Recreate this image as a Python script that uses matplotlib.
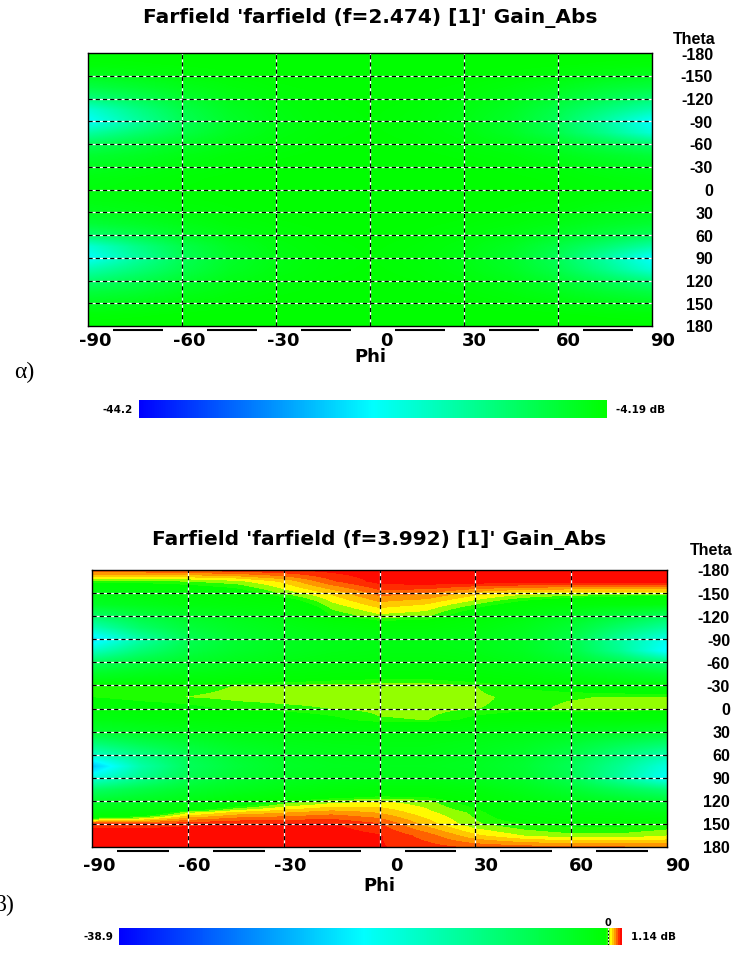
import numpy as np
import matplotlib
matplotlib.use("Agg")
import matplotlib.pyplot as plt
from matplotlib.colors import LinearSegmentedColormap, Normalize
from matplotlib.cm import ScalarMappable
from matplotlib.transforms import blended_transform_factory, ScaledTranslation

plt.rcParams["lines.scale_dashes"] = False

# sampling grid of the farfield tables (degrees)
PHI = [-90, -75, -60, -45, -30, -15, 0, 15, 30, 45, 60, 75, 90]
THETA = [-180, -165, -150, -135, -120, -105, -90, -75, -60, -45, -30, -15, 0,
         15, 30, 45, 60, 75, 90, 105, 120, 135, 150, 165, 180]

PHI_TICKS = [-90, -60, -30, 0, 30, 60, 90]
THETA_TICKS = [-180, -150, -120, -90, -60, -30, 0, 30, 60, 90, 120, 150, 180]

# ---- panel a: f = 2.474 -------------------------------------------------
TITLE_A = "Farfield 'farfield (f=2.474) [1]' Gain_Abs"
RANGE_A = (-44.2, -4.19)
GAIN_A = [  # dB, rows = theta, columns = phi
    [-4.19, -4.19, -4.19, -4.19, -4.19, -4.19, -4.19, -4.19, -4.19, -4.19, -4.19, -4.19, -4.19],
    [-4.8, -4.6, -4.4, -4.3, -4.2, -4.19, -4.19, -4.19, -4.2, -4.3, -4.4, -4.6, -4.8],
    [-6.5, -5.8, -5.0, -4.6, -4.35, -4.25, -4.2, -4.25, -4.35, -4.6, -5.0, -5.8, -6.5],
    [-9.5, -8.0, -6.3, -5.2, -4.6, -4.35, -4.25, -4.35, -4.6, -5.2, -6.3, -8.0, -9.0],
    [-14.0, -11.0, -8.0, -6.0, -5.0, -4.5, -4.3, -4.5, -5.0, -6.0, -8.0, -10.5, -13.0],
    [-21.0, -15.0, -10.0, -7.0, -5.5, -4.7, -4.4, -4.7, -5.5, -7.0, -10.0, -14.0, -18.0],
    [-24.0, -17.0, -11.0, -7.5, -5.7, -4.8, -4.5, -4.8, -5.7, -7.5, -11.0, -17.0, -24.0],
    [-17.0, -13.0, -9.5, -6.8, -5.4, -4.7, -4.4, -4.7, -5.4, -7.0, -10.0, -15.0, -21.0],
    [-11.0, -9.0, -7.2, -5.8, -5.0, -4.5, -4.3, -4.5, -5.0, -5.8, -7.4, -10.0, -12.5],
    [-8.0, -7.0, -5.8, -5.0, -4.6, -4.35, -4.25, -4.35, -4.6, -5.0, -6.0, -7.3, -8.5],
    [-6.5, -5.8, -5.0, -4.6, -4.35, -4.25, -4.2, -4.25, -4.35, -4.6, -5.0, -5.8, -6.5],
    [-5.5, -5.1, -4.6, -4.4, -4.25, -4.2, -4.19, -4.2, -4.25, -4.4, -4.6, -5.1, -5.5],
    [-5.2, -4.9, -4.5, -4.3, -4.2, -4.19, -4.19, -4.19, -4.2, -4.3, -4.5, -4.9, -5.2],
    [-5.5, -5.1, -4.6, -4.4, -4.25, -4.2, -4.19, -4.2, -4.25, -4.4, -4.6, -5.1, -5.5],
    [-6.5, -5.8, -5.0, -4.6, -4.35, -4.25, -4.2, -4.25, -4.35, -4.6, -5.0, -5.8, -6.5],
    [-8.5, -7.3, -6.0, -5.0, -4.6, -4.35, -4.25, -4.35, -4.6, -5.0, -5.8, -7.0, -8.0],
    [-12.5, -10.0, -7.4, -5.8, -5.0, -4.5, -4.3, -4.5, -5.0, -5.8, -7.2, -9.0, -11.0],
    [-21.0, -15.0, -10.0, -7.0, -5.4, -4.7, -4.4, -4.7, -5.4, -6.8, -9.5, -13.0, -17.0],
    [-24.0, -17.0, -11.0, -7.5, -5.7, -4.8, -4.5, -4.8, -5.7, -7.5, -11.0, -17.0, -24.0],
    [-18.0, -14.0, -10.0, -7.0, -5.5, -4.7, -4.4, -4.7, -5.5, -7.0, -10.0, -15.0, -21.0],
    [-13.0, -10.5, -8.0, -6.0, -5.0, -4.5, -4.3, -4.5, -5.0, -6.0, -8.0, -11.0, -14.0],
    [-9.0, -8.0, -6.3, -5.2, -4.6, -4.35, -4.25, -4.35, -4.6, -5.2, -6.3, -8.0, -9.5],
    [-6.5, -5.8, -5.0, -4.6, -4.35, -4.25, -4.2, -4.25, -4.35, -4.6, -5.0, -5.8, -6.5],
    [-4.8, -4.6, -4.4, -4.3, -4.2, -4.19, -4.19, -4.19, -4.2, -4.3, -4.4, -4.6, -4.8],
    [-4.19, -4.19, -4.19, -4.19, -4.19, -4.19, -4.19, -4.19, -4.19, -4.19, -4.19, -4.19, -4.19],
]

# ---- panel b: f = 3.992 -------------------------------------------------
TITLE_B = "Farfield 'farfield (f=3.992) [1]' Gain_Abs"
RANGE_B = (-38.9, 1.14)
GAIN_B = [  # dB, rows = theta, columns = phi
    [0.85, 0.85, 0.9, 0.95, 1.0, 1.05, 1.1, 1.14, 1.14, 1.14, 1.14, 1.14, 1.14],
    [0.0, 0.0, 0.05, 0.15, 0.4, 0.8, 1.05, 1.1, 1.1, 1.1, 1.1, 1.1, 1.1],
    [-1.2, -0.8, -0.5, -0.3, 0.1, 0.4, 0.75, 0.7, 0.45, 0.3, 0.25, 0.25, 0.25],
    [-3.0, -2.0, -1.2, -0.8, -0.5, 0.15, 0.45, 0.35, 0.05, -0.3, -0.6, -0.9, -1.2],
    [-8.0, -5.0, -3.0, -2.0, -1.2, -0.1, 0.15, 0.08, -0.4, -1.2, -2.5, -4.5, -7.0],
    [-14.0, -8.0, -4.5, -2.8, -1.8, -1.0, -0.5, -0.5, -1.0, -2.0, -4.0, -8.0, -12.0],
    [-22.0, -13.0, -6.5, -3.8, -2.5, -1.8, -1.5, -1.5, -1.8, -2.8, -5.5, -12.0, -18.0],
    [-15.0, -9.0, -5.0, -3.2, -2.2, -1.6, -1.3, -1.3, -1.6, -2.5, -5.0, -11.0, -20.0],
    [-7.0, -4.5, -3.0, -2.0, -1.4, -1.0, -0.8, -0.8, -1.0, -1.6, -3.0, -5.5, -9.0],
    [-3.0, -2.0, -1.4, -1.0, -0.6, -0.4, -0.3, -0.3, -0.5, -0.8, -1.5, -2.5, -4.0],
    [0.0, -0.05, -0.05, 0.05, 0.08, 0.1, 0.12, 0.12, 0.05, -0.15, -0.3, -0.5, -0.6],
    [-0.1, 0.0, 0.05, 0.1, 0.12, 0.12, 0.12, 0.12, 0.08, 0.0, 0.03, 0.06, 0.05],
    [-0.5, -0.3, -0.2, -0.05, 0.0, 0.05, 0.1, 0.12, 0.05, 0.0, 0.08, 0.1, 0.08],
    [-1.5, -1.0, -0.7, -0.5, -0.4, -0.2, 0.02, 0.05, -0.2, -0.4, -0.5, -0.6, -0.8],
    [-3.5, -2.5, -1.8, -1.2, -1.0, -0.9, -0.8, -0.8, -1.0, -1.4, -2.0, -2.5, -3.5],
    [-9.0, -6.0, -4.0, -2.5, -1.8, -1.5, -1.4, -1.4, -1.8, -2.4, -3.8, -6.0, -8.0],
    [-15.0, -10.0, -6.0, -3.8, -2.6, -2.0, -1.8, -1.8, -2.3, -3.3, -5.5, -9.0, -13.0],
    [-24.0, -13.0, -7.0, -4.4, -3.0, -2.4, -2.2, -2.2, -2.6, -3.8, -6.5, -11.0, -17.0],
    [-17.0, -11.0, -6.0, -3.8, -2.5, -1.9, -1.7, -1.7, -2.2, -3.4, -6.2, -12.0, -19.0],
    [-8.0, -5.5, -3.5, -2.2, -1.4, -0.9, -0.6, -0.6, -1.0, -2.0, -3.8, -6.5, -9.0],
    [-3.5, -2.5, -1.5, -0.6, -0.1, 0.1, 0.2, 0.1, -0.3, -1.0, -1.8, -2.8, -4.0],
    [-1.0, -0.6, 0.15, 0.4, 0.5, 0.6, 0.5, 0.25, 0.0, -0.5, -0.8, -1.0, -1.5],
    [0.9, 0.9, 0.95, 1.0, 1.0, 1.0, 0.85, 0.45, 0.08, -0.1, -0.2, -0.2, -0.1],
    [1.12, 1.12, 1.12, 1.12, 1.1, 1.08, 1.0, 0.75, 0.4, 0.2, 0.1, 0.1, 0.2],
    [1.14, 1.14, 1.14, 1.12, 1.1, 1.05, 1.0, 0.9, 0.8, 0.75, 0.7, 0.7, 0.65],
]

W, H = 756, 954
fig = plt.figure(figsize=(W / 100, H / 100), dpi=100)
fig.patch.set_facecolor("white")

BOLD = dict(family=["DejaVu Sans"], weight="bold")
NARROW = dict(family=["Liberation Sans", "DejaVu Sans"], weight="bold")
SERIF = dict(family=["Liberation Serif", "DejaVu Serif"])


def px(v):
    return v / 100.0


def px_axes(left, top, right, bottom):
    return fig.add_axes([left / W, 1 - bottom / H, (right - left) / W, (bottom - top) / H])


def farfield_cmap(vmin, vmax):
    """Blue-cyan-green below 0 dB, green-yellow-red above."""
    span = vmax - vmin
    neg_top = min(vmax, 0.0)

    def pos(v):
        return (v - vmin) / span

    nodes = [(0.0, "#0000ff"), (pos((vmin + neg_top) / 2), "#00ffff"), (pos(neg_top), "#00ff00")]
    if vmax > 0:
        nodes += [(pos(0.3 * vmax), "#ffff00"), (pos(0.62 * vmax), "#ff8c00"),
                  (pos(0.9 * vmax), "#ff1e00"), (1.0, "#ff0a00")]
    return LinearSegmentedColormap.from_list("farfield", nodes)


def draw_panel(box, gain, rng, title, tick_drop, phi_drop, head_rise, title_rise, label_gap):
    ax = px_axes(*box)
    cmap = farfield_cmap(*rng)
    norm = Normalize(*rng)
    z = np.asarray(gain, dtype=float)
    dp = (PHI[1] - PHI[0]) / 2
    dt = (THETA[1] - THETA[0]) / 2
    ax.imshow(z, cmap=cmap, norm=norm, origin="upper", aspect="auto",
              extent=[PHI[0] - dp, PHI[-1] + dp, THETA[-1] + dt, THETA[0] - dt],
              interpolation="bilinear", interpolation_stage="data")
    ax.set_xlim(PHI_TICKS[0], PHI_TICKS[-1])
    ax.set_ylim(THETA_TICKS[-1], THETA_TICKS[0])
    ax.set_xticks([])
    ax.set_yticks([])
    for s in ax.spines.values():
        s.set_linewidth(1.0)
        s.set_color("black")

    # black-and-white dashed grid
    for p in PHI_TICKS[1:-1]:
        ax.axvline(p, color="white", lw=0.9)
        ax.axvline(p, color="black", lw=0.9, ls=(0, (3.0, 2.2)))
    for t in THETA_TICKS[1:-1]:
        ax.axhline(t, color="white", lw=0.9)
        ax.axhline(t, color="black", lw=0.9, ls=(0, (3.0, 2.2)))

    dpi_tr = fig.dpi_scale_trans
    xt = blended_transform_factory(ax.transData, ax.transAxes)
    for p in PHI_TICKS:
        ax.text(p, 0, f"{p}", transform=xt + ScaledTranslation(px(23), -px(tick_drop), dpi_tr),
                ha="right", va="center", fontsize=13, **BOLD)

    # axis baseline, interrupted by the tick labels
    ax_w = ax.get_position().width * W
    deg_per_px = (PHI_TICKS[-1] - PHI_TICKS[0]) / ax_w
    base = xt + ScaledTranslation(0, -px(4), dpi_tr)
    for a, b in zip(PHI_TICKS[:-1], PHI_TICKS[1:]):
        ax.plot([a + 25 * deg_per_px, b - 19 * deg_per_px], [0, 0], transform=base,
                color="black", lw=1.5, clip_on=False, solid_capstyle="butt")

    ax.text(0.5, 0, "Phi", transform=ax.transAxes + ScaledTranslation(0, -px(phi_drop), dpi_tr),
            ha="center", va="center", fontsize=13, **BOLD)

    yt = blended_transform_factory(ax.transAxes, ax.transData)
    for t in THETA_TICKS:
        ax.text(1, t, f"{t}", transform=yt + ScaledTranslation(px(label_gap), px(-1), dpi_tr),
                ha="right", va="center", fontsize=11.5, **NARROW)
    ax.text(1, 1, "Theta", transform=ax.transAxes + ScaledTranslation(px(label_gap + 3), px(head_rise), dpi_tr),
            ha="right", va="center", fontsize=11.5, **NARROW)

    ax.text(0.5, 1, title, transform=ax.transAxes + ScaledTranslation(0, px(title_rise), dpi_tr),
            ha="center", va="center", fontsize=14.5, **BOLD)
    return ax


def draw_scale(box, rng):
    cax = px_axes(*box)
    cmap = farfield_cmap(*rng)
    norm = Normalize(*rng)
    cb = fig.colorbar(ScalarMappable(norm=norm, cmap=cmap), cax=cax, orientation="horizontal")
    cb.outline.set_visible(False)
    cb.set_ticks([])
    dpi_tr = fig.dpi_scale_trans
    cax.text(0, 0.5, f"{rng[0]:g}", transform=cax.transAxes + ScaledTranslation(-px(6), 0, dpi_tr),
             ha="right", va="center", fontsize=7.5, **BOLD)
    cax.text(1, 0.5, f"{rng[1]:g} dB", transform=cax.transAxes + ScaledTranslation(px(9), 0, dpi_tr),
             ha="left", va="center", fontsize=7.5, **BOLD)
    if rng[0] < 0 < rng[1]:
        cax.axvline(0, color="white", lw=0.8)
        cax.axvline(0, color="black", lw=0.8, ls=(0, (1.2, 1.2)))
        zt = blended_transform_factory(cax.transData, cax.transAxes)
        cax.text(0, 1, "0", transform=zt + ScaledTranslation(0, px(1), dpi_tr),
                 ha="center", va="bottom", fontsize=7, **BOLD)


draw_panel((88, 54, 652, 327), GAIN_A, RANGE_A, TITLE_A,
           tick_drop=14, phi_drop=30, head_rise=14, title_rise=36, label_gap=61)
draw_scale((139, 401, 607, 419), RANGE_A)
fig.text(14 / W, 1 - 372 / H, "α)", ha="left", va="center", fontsize=17, **SERIF)

draw_panel((92, 571, 667, 848), GAIN_B, RANGE_B, TITLE_B,
           tick_drop=18, phi_drop=38, head_rise=20, title_rise=31, label_gap=63)
draw_scale((119, 929, 622, 946), RANGE_B)
fig.text(-5 / W, 1 - 905 / H, "β)", ha="left", va="center", fontsize=17, **SERIF)

fig.savefig("out.png", dpi=100, facecolor="white")
